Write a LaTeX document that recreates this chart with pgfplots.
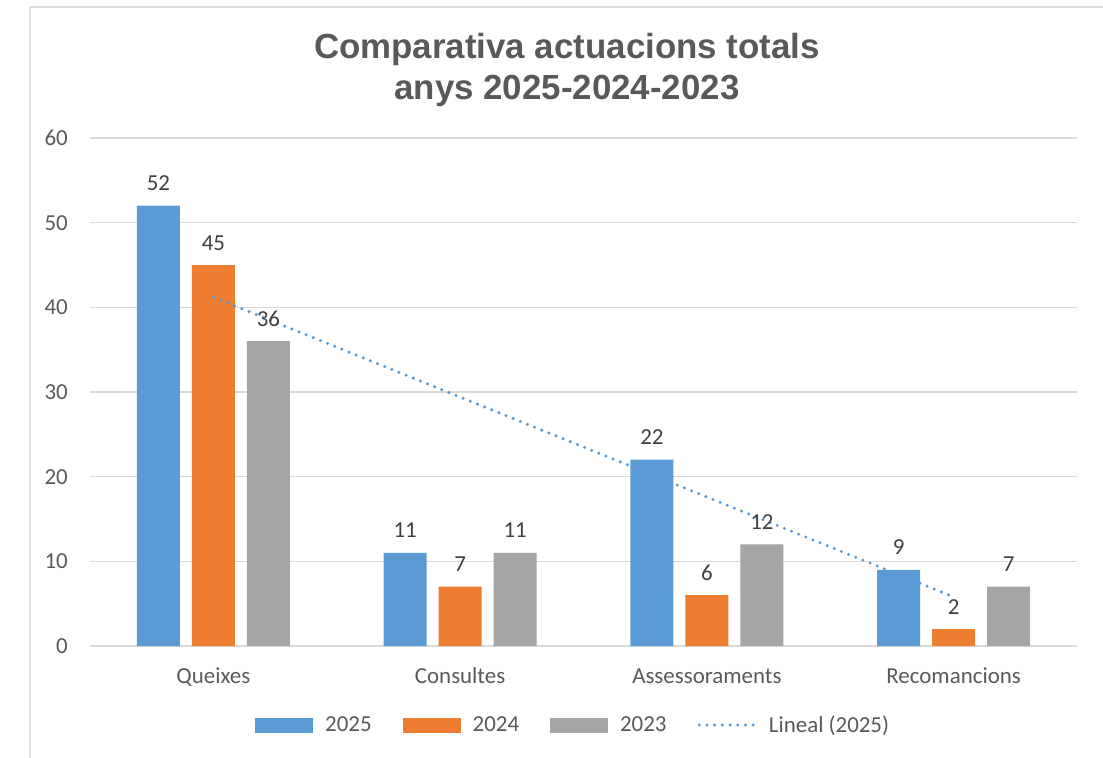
\documentclass[border=0pt]{standalone}
\usepackage{pgfplots}
\pgfplotsset{compat=1.18}
\usepackage{fontspec}
\setmainfont{Carlito}
\newfontfamily\titlefont{Liberation Sans}
\definecolor{c25}{RGB}{91,155,213}
\definecolor{c24}{RGB}{237,125,49}
\definecolor{c23}{RGB}{165,165,165}
\definecolor{txt}{RGB}{89,89,89}
\definecolor{lbl}{RGB}{64,64,64}
\definecolor{grd}{RGB}{217,217,217}
\definecolor{frm}{RGB}{222,222,222}
\begin{document}
\begin{tikzpicture}
\path[use as bounding box] (0,0) rectangle (1103bp,-758bp);
\draw[frm, line width=1.5bp] (30bp,-758bp) -- (30bp,-7bp) -- (1103bp,-7bp);
\node[anchor=base, text=txt, font=\titlefont\bfseries\fontsize{35}{40}\selectfont, inner sep=0pt] at (567bp,-58bp) {Comparativa actuacions totals};
\node[anchor=base, text=txt, font=\titlefont\bfseries\fontsize{35}{40}\selectfont, inner sep=0pt] at (567bp,-99bp) {anys 2025-2024-2023};
\begin{axis}[
  at={(90bp,-646bp)}, anchor=south west,
  width=987bp, height=508bp, scale only axis,
  xmin=-0.5, xmax=3.5, ymin=0, ymax=60,
  ytick={0,10,...,60},
  xtick={0,1,2,3},
  xticklabels={Queixes,Consultes,Assessoraments,Recomancions},
  axis line style={draw=none},
  major tick length=0pt,
  ymajorgrids, grid style={grd, line width=1.3bp},
  ticklabel style={font=\fontsize{23}{27}\selectfont, text=txt},
  /pgf/number format/assume math mode=true,
  yticklabel style={anchor=east, inner sep=0pt, xshift=-22bp},
  xticklabel style={anchor=north, inner sep=0pt, yshift=-22bp, text height=15bp, text depth=4bp},
  clip=false,
  legend columns=4,
  legend style={at={(0.4885,-0.1555)}, anchor=center, draw=none, fill=none,
    font=\fontsize{23}{27}\selectfont, text=txt,
    nodes={inner sep=0pt},
    /tikz/every odd column/.append style={column sep=12bp},
    /tikz/every even column/.append style={column sep=31bp}},
  nodes near coords style={anchor=base, inner sep=0pt, yshift=15bp, font=\fontsize{23}{27}\selectfont, text=lbl},
]
\addplot[ybar, bar width=43bp, bar shift=-55bp, fill=c25, draw=none, nodes near coords,
  every node near coord/.append style={xshift=-55bp},
  legend image code/.code={\fill[c25] (0bp,-7.5bp) rectangle (58bp,7.5bp);}]
  coordinates {(0,52) (1,11) (2,22) (3,9)};
\addlegendentry{2025}
\addplot[ybar, bar width=43bp, bar shift=0bp, fill=c24, draw=none, nodes near coords,
  legend image code/.code={\fill[c24] (0bp,-7.5bp) rectangle (58bp,7.5bp);}]
  coordinates {(0,45) (1,7) (2,6) (3,2)};
\addlegendentry{2024}
\addplot[ybar, bar width=43bp, bar shift=55bp, fill=c23, draw=none, nodes near coords,
  every node near coord/.append style={xshift=55bp},
  legend image code/.code={\fill[c23] (0bp,-7.5bp) rectangle (58bp,7.5bp);}]
  coordinates {(0,36) (1,11) (2,12) (3,7)};
\addlegendentry{2023}
\addplot[sharp plot, c25, line width=3.4bp, line cap=round, dash pattern=on 0bp off 7.7bp,
  legend image code/.code={\draw[c25, line width=3.4bp, line cap=round, dash pattern=on 0bp off 7.7bp] (2bp,0bp) -- (58bp,0bp);}]
  coordinates {(0,41.2) (3,5.8)};
\addlegendentry{Lineal (2025)}
\end{axis}
\end{tikzpicture}
\end{document}
